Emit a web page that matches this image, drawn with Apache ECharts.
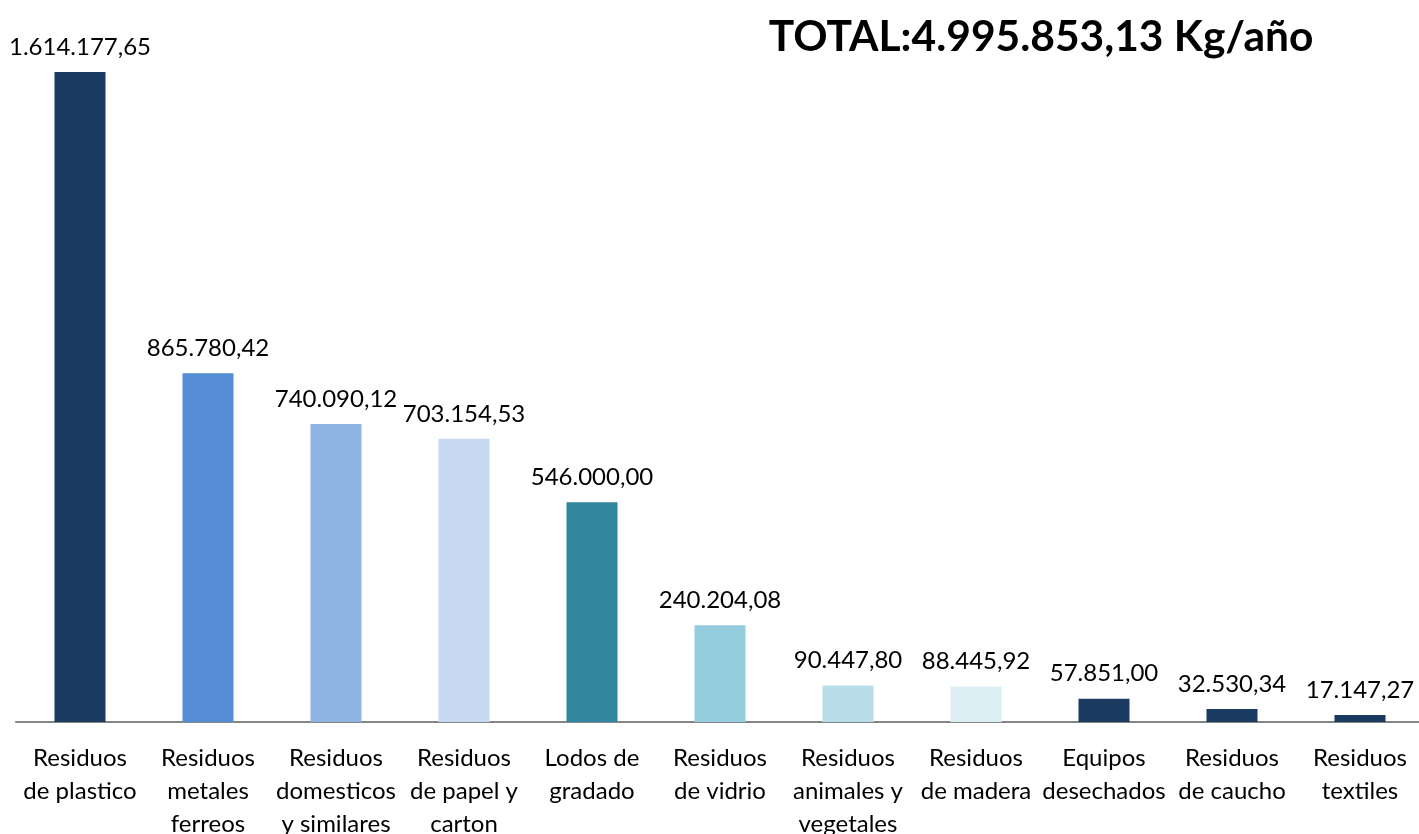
<!DOCTYPE html>
<html>
<head>
<meta charset="utf-8">
<script src="https://cdn.jsdelivr.net/npm/echarts@6/dist/echarts.min.js"></script>
<style>
    html, body { margin: 0; padding: 0; background: #fff; }
    #residuos-chart { width: 1419px; height: 834px; }
</style>
</head>
<body>
<div id="residuos-chart"></div>
<script>
const CATEGORIES = [
    'Residuos\nde plastico',
    'Residuos\nmetales\nferreos',
    'Residuos\ndomesticos\ny similares',
    'Residuos\nde papel y\ncarton',
    'Lodos de\ngradado',
    'Residuos\nde vidrio',
    'Residuos\nanimales y\nvegetales',
    'Residuos\nde madera',
    'Equipos\ndesechados',
    'Residuos\nde caucho',
    'Residuos\ntextiles'
];
const VALUES = [1614177.65, 865780.42, 740090.12, 703154.53, 546000.00, 240204.08, 90447.80, 88445.92, 57851.00, 32530.34, 17147.27];
const BAR_COLORS = ['#1b3a5f', '#558ed5', '#8eb4e3', '#c6d9f1', '#31859c', '#93cddd', '#b7dee8', '#dbeef4', '#1b3a5f', '#1b3a5f', '#1b3a5f'];
const TITLE_TEXT = 'TOTAL:4.995.853,13 Kg/año';

const FONT = 'Lato, "Open Sans", sans-serif';

// Spanish number format: 1.614.177,65
function formatEs(v) {
    let parts = v.toFixed(2).split('.');
    parts[0] = parts[0].replace(/\B(?=(\d{3})+(?!\d))/g, '.');
    return parts[0] + ',' + parts[1];
}

let residuos_chart = echarts.init(document.getElementById('residuos-chart'));

residuos_chart.setOption({
    animation: false,
    title: {
        text: TITLE_TEXT,
        left: 1036,
        top: 11,
        textAlign: 'center',
        textStyle: {
            fontFamily: FONT,
            fontWeight: 'bold',
            fontSize: 42.5,
            color: '#000'
        }
    },
    grid: {
        left: 16,
        right: -5,
        top: 72,
        bottom: 112,
        outerBoundsMode: 'none',
        containLabel: false
    },
    xAxis: {
        type: 'category',
        data: CATEGORIES,
        axisLine: {lineStyle: {color: '#868686', width: 2}},
        axisTick: {show: false},
        axisLabel: {
            interval: 0,
            margin: 20,
            fontFamily: FONT,
            fontSize: 24,
            lineHeight: 33,
            color: '#000'
        }
    },
    yAxis: {
        type: 'value',
        min: 0,
        max: 1614177.65,
        show: false,
        splitLine: {show: false}
    },
    series: [{
        type: 'bar',
        barWidth: 51,
        data: VALUES.map(function (v, i) {
            return {value: v, itemStyle: {color: BAR_COLORS[i]}};
        }),
        label: {
            show: true,
            position: 'top',
            distance: 13,
            fontFamily: FONT,
            fontSize: 24,
            color: '#000',
            formatter: function (p) { return formatEs(p.value); }
        }
    }]
});

window.addEventListener('resize', function () {
    residuos_chart.resize();
});
</script>
</body>
</html>
